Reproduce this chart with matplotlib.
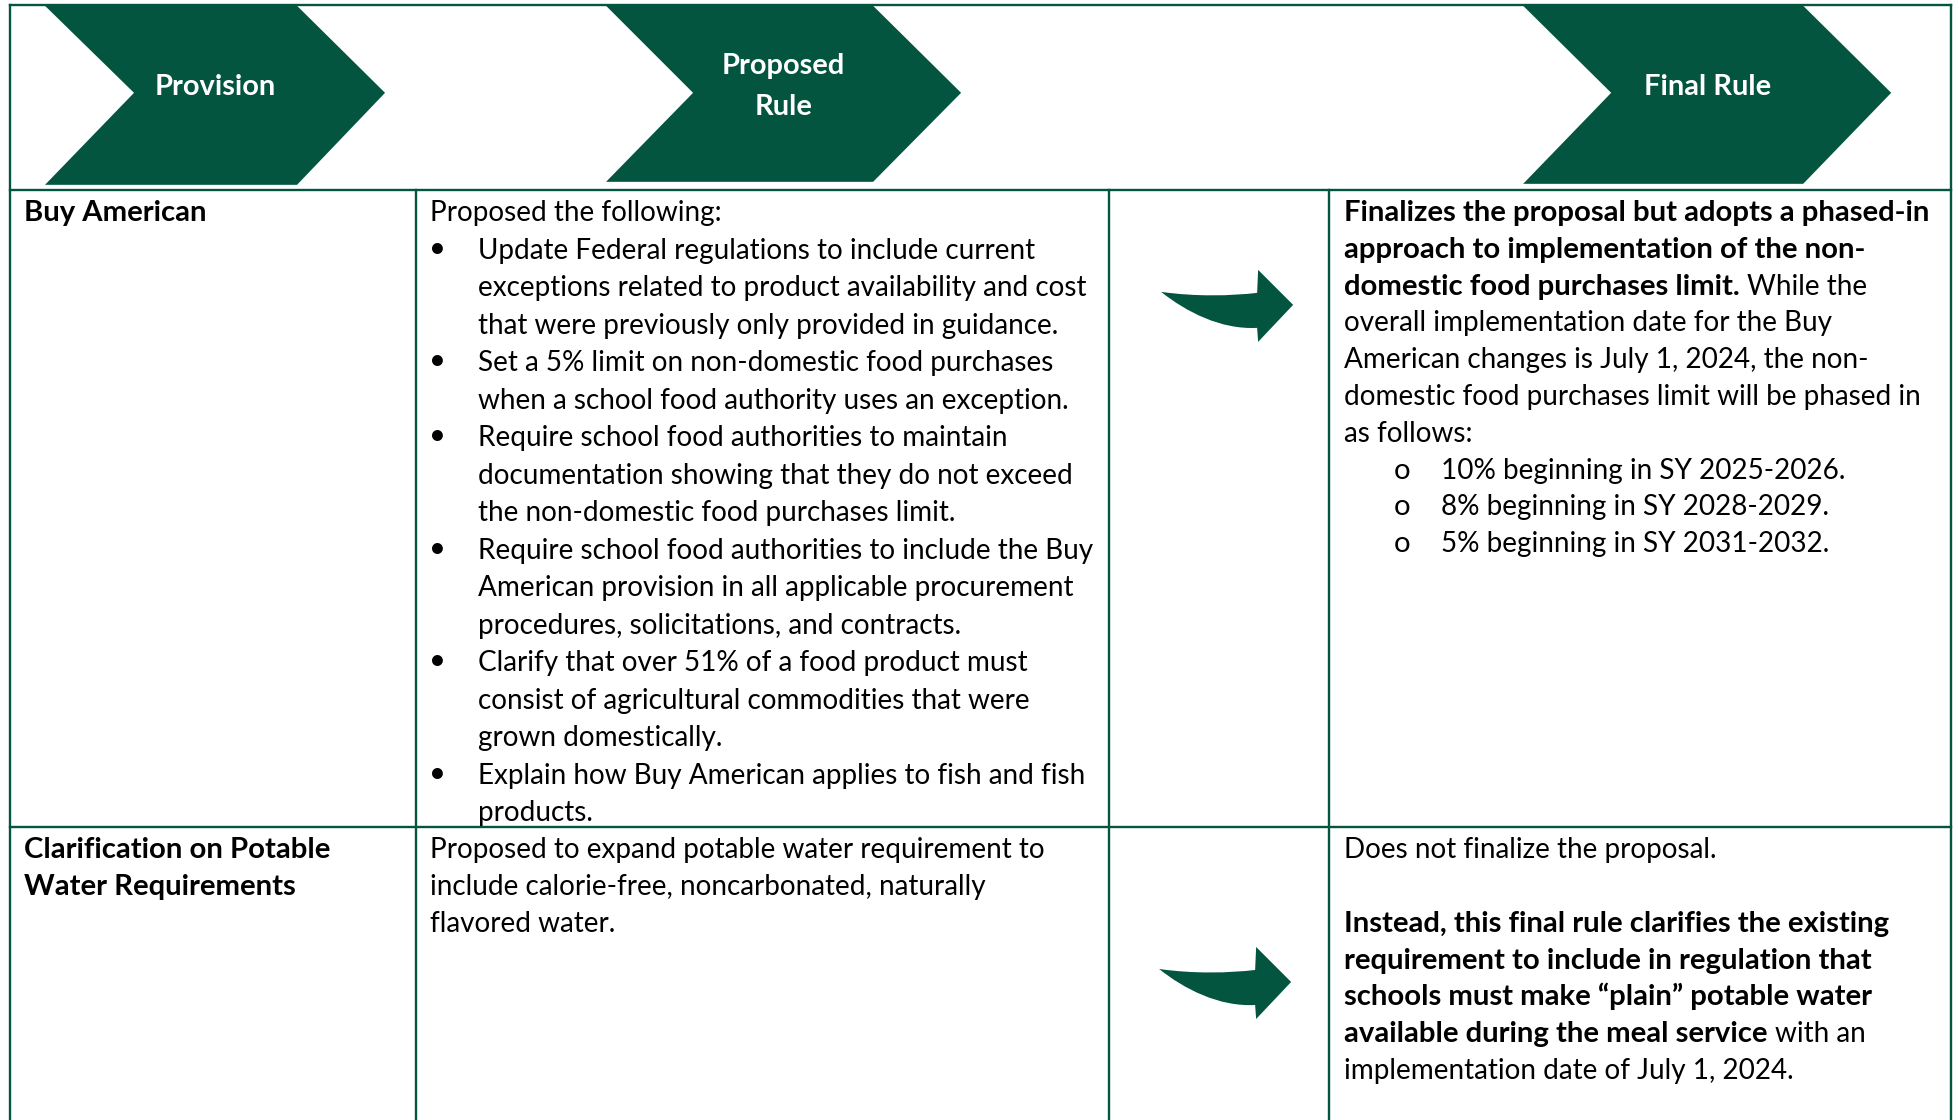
import matplotlib
matplotlib.use("Agg")
import matplotlib.pyplot as plt
from matplotlib.patches import Polygon, PathPatch
from matplotlib.path import Path

# ---------------- data ----------------
header_labels = ["Provision", "Proposed\nRule", "Final Rule"]

provision_row1 = ["Buy American"]
provision_row2 = ["Clarification on Potable", "Water Requirements"]

proposed_row1_intro = "Proposed the following:"
proposed_row1_bullets = [
    ["Update Federal regulations to include current",
     "exceptions related to product availability and cost",
     "that were previously only provided in guidance."],
    ["Set a 5% limit on non-domestic food purchases",
     "when a school food authority uses an exception."],
    ["Require school food authorities to maintain",
     "documentation showing that they do not exceed",
     "the non-domestic food purchases limit."],
    ["Require school food authorities to include the Buy",
     "American provision in all applicable procurement",
     "procedures, solicitations, and contracts."],
    ["Clarify that over 51% of a food product must",
     "consist of agricultural commodities that were",
     "grown domestically."],
    ["Explain how Buy American applies to fish and fish",
     "products."],
]
proposed_row2_lines = [
    "Proposed to expand potable water requirement to",
    "include calorie-free, noncarbonated, naturally",
    "flavored water.",
]

# "**...**" marks bold runs
final_row1_lines = [
    "**Finalizes the proposal but adopts a phased-in**",
    "**approach to implementation of the non-**",
    "**domestic food purchases limit.** While the",
    "overall implementation date for the Buy",
    "American changes is July 1, 2024, the non-",
    "domestic food purchases limit will be phased in",
    "as follows:",
]
final_row1_subbullets = [
    "10% beginning in SY 2025-2026.",
    "8% beginning in SY 2028-2029.",
    "5% beginning in SY 2031-2032.",
]
final_row2_lines = [
    "Does not finalize the proposal.",
    "",
    "**Instead, this final rule clarifies the existing**",
    "**requirement to include in regulation that**",
    "**schools must make \u201cplain\u201d potable water**",
    "**available during the meal service** with an",
    "implementation date of July 1, 2024.",
]

# ---------------- style ----------------
W, H = 1959, 1120
GREEN = "#03553F"
FAMILY = ["Lato", "DejaVu Sans"]
LW = 1.7

fig = plt.figure(figsize=(19.592, 11.202), dpi=100)
ax = fig.add_axes([0, 0, 1, 1])
ax.set_xlim(0, W)
ax.set_ylim(H, 0)
ax.axis("off")
renderer = fig.canvas.get_renderer()


def tw(s, weight, size):
    t = ax.text(0, 0, s, fontsize=size, fontweight=weight, family=FAMILY)
    w = t.get_window_extent(renderer).width
    t.remove()
    return w


# fit font sizes to measured text widths of the reference
REG = 20 * 557 / tw("Update Federal regulations to include current", "normal", 20)
BOLD = 20 * 585 / tw("Finalizes the proposal but adopts a phased-in", "bold", 20)
HEAD = 20 * 127 / tw("Final Rule", "bold", 20)


def rich_line(x, y, s, default="normal"):
    parts = s.split("**")
    cur = x
    for i, p in enumerate(parts):
        if not p:
            continue
        weight = "bold" if i % 2 == 1 else default
        size = BOLD if weight == "bold" else REG
        lead = len(p) - len(p.lstrip(" "))
        if lead:
            cur += lead * (tw("a a", weight, size) - tw("aa", weight, size))
            p = p.lstrip(" ")
        ax.text(cur, y, p, fontsize=size, fontweight=weight, family=FAMILY,
                va="baseline", ha="left", color="black")
        cur += tw(p, weight, size)


# ---------------- table grid ----------------
left, right, top = 10, 1951, 5
head_bot, row_div = 190, 827
col_x = [416, 1109, 1329]


def line(xs, ys):
    ax.plot(xs, ys, color=GREEN, lw=LW, solid_capstyle="projecting")


line([left, right], [top, top])
line([left, right], [head_bot, head_bot])
line([left, right], [row_div, row_div])
line([left, left], [top, H])
line([right, right], [top, H])
for cx in col_x:
    line([cx, cx], [head_bot, H])

# ---------------- header chevrons ----------------
chevrons = [
    (45, 134, 297, 385, 6, 93, 185),
    (606, 693, 873, 961, 6, 93, 182),
    (1523, 1611, 1803, 1891, 6, 93, 184),
]
for (lt, notch, rt, tip, yt, ym, yb), lab in zip(chevrons, header_labels):
    ax.add_patch(Polygon([(lt, yt), (rt, yt), (tip, ym), (rt, yb), (lt, yb), (notch, ym)],
                         closed=True, facecolor=GREEN, edgecolor="none"))
    cx = (notch + rt) / 2
    lines = lab.split("\n")
    step = 41
    y0 = (ym - 9) - (len(lines) - 1) * step / 2
    for k, l in enumerate(lines):
        ax.text(cx, y0 + k * step, l, fontsize=HEAD, fontweight="bold", family=FAMILY,
                color="white", ha="center", va="center_baseline")

# ---------------- curved arrows ----------------
def arrow(x0, y0):
    verts = [(0, 0),
             (35, 5), (70, 4), (96, 1),
             (97, -22), (132, 13), (97, 50), (96, 36),
             (60, 38), (25, 20), (0, 0)]
    codes = [Path.MOVETO,
             Path.CURVE4, Path.CURVE4, Path.CURVE4,
             Path.LINETO, Path.LINETO, Path.LINETO, Path.LINETO,
             Path.CURVE4, Path.CURVE4, Path.CURVE4]
    v = [(x0 + a, y0 + b) for a, b in verts]
    ax.add_patch(PathPatch(Path(v, codes), facecolor=GREEN, edgecolor="none"))


arrow(1161, 292)
arrow(1159, 969)

# ---------------- cell text ----------------
LS2 = 37.5   # line step, proposed column row 1
LS = 36.8    # line step elsewhere
B1 = 221     # first baseline row 1
B2 = 858     # first baseline row 2

x1, x2, x4 = 24, 430, 1344
bullet_x, bullet_tx = 437, 478
sub_x, sub_tx = 1402, 1441

for k, l in enumerate(provision_row1):
    rich_line(x1, B1 + k * LS, "**" + l + "**")
for k, l in enumerate(provision_row2):
    rich_line(x1, B2 + k * LS, "**" + l + "**")

rich_line(x2, B1, proposed_row1_intro)
n = 1
for item in proposed_row1_bullets:
    for j, l in enumerate(item):
        y = B1 + n * LS2
        if j == 0:
            ax.text(bullet_x, y - 10, "\u2022", fontsize=REG * 1.05, family=FAMILY,
                    ha="center", va="center", color="black")
        rich_line(bullet_tx, y, l)
        n += 1

for k, l in enumerate(proposed_row2_lines):
    rich_line(x2, B2 + k * LS, l)

for k, l in enumerate(final_row1_lines):
    rich_line(x4, B1 + k * LS, l)
base = len(final_row1_lines)
for k, l in enumerate(final_row1_subbullets):
    y = B1 + (base + k) * LS
    ax.text(sub_x, y, "o", fontsize=REG * 1.05, family=FAMILY,
            ha="center", va="baseline", color="black")
    rich_line(sub_tx, y, l)

for k, l in enumerate(final_row2_lines):
    if l:
        rich_line(x4, B2 + k * LS, l)

fig.savefig("out.png", dpi=100, facecolor="white")
